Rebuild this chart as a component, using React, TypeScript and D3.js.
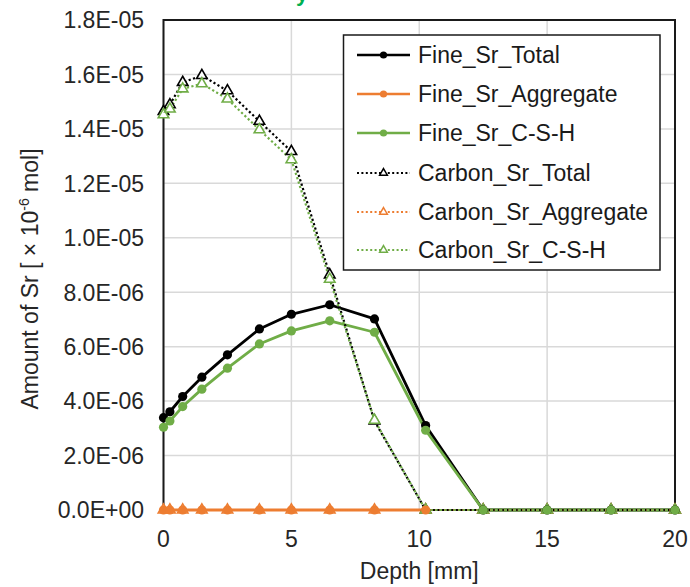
import React from "react";
import * as d3 from "d3";

const depths = [0, 0.25, 0.75, 1.5, 2.5, 3.75, 5, 6.5, 8.25, 10.25, 12.5, 15, 17.5, 20];
const fineTotal = [3.39e-6, 3.61e-6, 4.17e-6, 4.88e-6, 5.7e-6, 6.65e-6, 7.19e-6, 7.54e-6, 7.02e-6, 3.1e-6, 0, 0, 0, 0];
const fineAggDepths = [0, 0.25, 0.75, 1.5, 2.5, 3.75, 5, 6.5, 8.25, 10.25];
const fineAggregate = [0, 0, 0, 0, 0, 0, 0, 0, 0, 0];
const fineCSH = [3.04e-6, 3.27e-6, 3.8e-6, 4.44e-6, 5.21e-6, 6.1e-6, 6.58e-6, 6.95e-6, 6.53e-6, 2.93e-6, 0, 0, 0, 0];
const carbonTotal = [1.464e-5, 1.489e-5, 1.571e-5, 1.596e-5, 1.54e-5, 1.428e-5, 1.317e-5, 8.64e-6, 3.27e-6, 0, 0, 0, 0, 0];
const carbonAggregate = [0, 0, 0, 0, 0, 0, 0, 0, 0, 0, 0, 0, 0, 0];
const carbonCSH = [1.452e-5, 1.473e-5, 1.547e-5, 1.566e-5, 1.51e-5, 1.397e-5, 1.287e-5, 8.48e-6, 3.3e-6, 0, 0, 0, 0, 0];

const yTicks = [0, 2e-6, 4e-6, 6e-6, 8e-6, 1e-5, 1.2e-5, 1.4e-5, 1.6e-5, 1.8e-5];
const yTickLabels = ["0.0E+00", "2.0E-06", "4.0E-06", "6.0E-06", "8.0E-06", "1.0E-05", "1.2E-05", "1.4E-05", "1.6E-05", "1.8E-05"];
const xTicks = [0, 5, 10, 15, 20];

const BLACK = "#000000";
const ORANGE = "#ED7D31";
const GREEN = "#70AD47";

type Series = { name: string; xs: number[]; ys: number[]; color: string; dotted: boolean };

const series: Series[] = [
  { name: "Fine_Sr_Total", xs: depths, ys: fineTotal, color: BLACK, dotted: false },
  { name: "Fine_Sr_Aggregate", xs: fineAggDepths, ys: fineAggregate, color: ORANGE, dotted: false },
  { name: "Fine_Sr_C-S-H", xs: depths, ys: fineCSH, color: GREEN, dotted: false },
  { name: "Carbon_Sr_Total", xs: depths, ys: carbonTotal, color: BLACK, dotted: true },
  { name: "Carbon_Sr_Aggregate", xs: depths, ys: carbonAggregate, color: ORANGE, dotted: true },
  { name: "Carbon_Sr_C-S-H", xs: depths, ys: carbonCSH, color: GREEN, dotted: true },
];

const W = 690;
const H = 587;
const L = 163.5, R = 675, T = 20, B = 510;
const FONT = "'Liberation Sans', Arial, sans-serif";
const FS = 23;

export default function App() {
  const x = d3.scaleLinear().domain([0, 20]).range([L, R]);
  const y = d3.scaleLinear().domain([0, 1.8e-5]).range([B, T]);
  const tri = d3.symbol(d3.symbolTriangle, 48)();
  const triSmall = d3.symbol(d3.symbolTriangle, 26)();

  const legendY = [55, 94, 133, 173, 212, 250];

  const pointsOf = (s: Series): [number, number][] => s.xs.map((d, i) => [x(d), y(s.ys[i])]);
  const solid = series.filter((s) => !s.dotted);
  const dotted = series.filter((s) => s.dotted);

  return (
    <svg width={W} height={H} style={{ position: "absolute", left: 0, top: 0, background: "#fff" }} fontFamily={FONT}>
      <rect x={0} y={0} width={W} height={H} fill="#fff" />
      <text x={296} y={1} fontSize={22} fontWeight="bold" fill="#00B050">y</text>
      {/* grid */}
      {yTicks.map((t) => (
        <line key={"gy" + t} x1={L} x2={R} y1={y(t)} y2={y(t)} stroke="#D9D9D9" strokeWidth={1.5} />
      ))}
      {xTicks.map((t) => (
        <line key={"gx" + t} x1={x(t)} x2={x(t)} y1={T} y2={B} stroke="#D9D9D9" strokeWidth={1.5} />
      ))}
      <rect x={L} y={T} width={R - L} height={B - T} fill="none" stroke="#1a1a1a" strokeWidth={2} />
      {/* y labels */}
      {yTicks.map((t, i) => (
        <text key={"yl" + t} x={144} y={y(t)} dy="0.36em" textAnchor="end" fontSize={FS} fill="#262626">
          {yTickLabels[i]}
        </text>
      ))}
      {xTicks.map((t) => (
        <text key={"xl" + t} x={x(t)} y={547} textAnchor="middle" fontSize={FS} fill="#262626">
          {t}
        </text>
      ))}
      <text x={x(10)} y={579} textAnchor="middle" fontSize={FS} fill="#262626">Depth [mm]</text>
      <text transform="translate(38,279) rotate(-90)" textAnchor="middle" fontSize={FS} fill="#262626">
        Amount of Sr [ × 10<tspan fontSize={14} dy={-9}>-6</tspan><tspan dy={9}> mol]</tspan>
      </text>
      {/* lines: solid first, then dotted */}
      {solid.map((s) => (
        <path key={"sl" + s.name} d={d3.line()(pointsOf(s)) || ""} fill="none" stroke={s.color} strokeWidth={2.8} strokeLinejoin="round" />
      ))}
      {dotted.map((s) => (
        <path key={"dl" + s.name} d={d3.line()(pointsOf(s)) || ""} fill="none" stroke={s.color} strokeWidth={2.2} strokeDasharray="2.2 2.4" />
      ))}
      {/* markers: triangles, then circles */}
      {dotted.map((s) => (
        <g key={"dm" + s.name}>
          {pointsOf(s).map((p, i) => (
            <path key={i} d={tri} transform={`translate(${p[0]},${p[1]})`} fill="#fff" stroke={s.color} strokeWidth={1.6} />
          ))}
        </g>
      ))}
      {solid.map((s) => (
        <g key={"sm" + s.name}>
          {pointsOf(s).map((p, i) => (
            <circle key={i} cx={p[0]} cy={p[1]} r={4.6} fill={s.color} />
          ))}
        </g>
      ))}
      {/* legend */}
      <rect x={343.5} y={35} width={316.5} height={235} fill="#fff" stroke="#1a1a1a" strokeWidth={1.5} />
      {series.map((s, i) => {
        const ly = legendY[i];
        return (
          <g key={"lg" + s.name}>
            <line
              x1={357}
              x2={410}
              y1={ly}
              y2={ly}
              stroke={s.color}
              strokeWidth={s.dotted ? 2 : 2.6}
              strokeDasharray={s.dotted ? "2 2.4" : undefined}
            />
            {s.dotted ? (
              <path d={triSmall} transform={`translate(383.5,${ly})`} fill="#fff" stroke={s.color} strokeWidth={1.5} />
            ) : (
              <circle cx={383.5} cy={ly} r={3.6} fill={s.color} />
            )}
            <text x={418} y={ly} dy="0.36em" fontSize={FS} fill="#1a1a1a">{s.name}</text>
          </g>
        );
      })}
    </svg>
  );
}
